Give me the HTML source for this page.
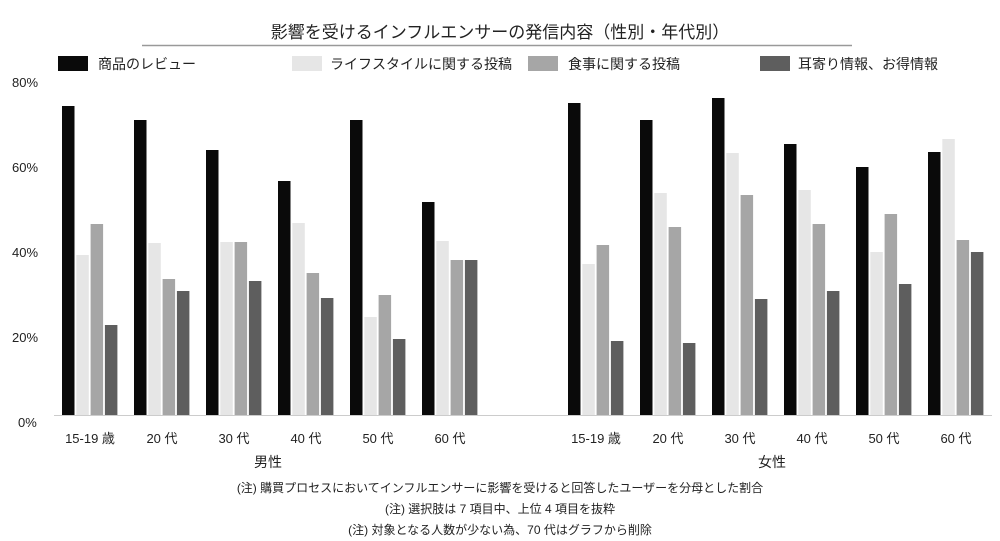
<!DOCTYPE html>
<html><head><meta charset="utf-8"><style>
body{margin:0;background:#fff;}
svg{display:block;font-family:"Liberation Sans","Noto Sans CJK JP",sans-serif;}
</style></head><body>
<svg width="1000" height="541" xmlns="http://www.w3.org/2000/svg">
<text x="500" y="38" font-size="17" text-anchor="middle" fill="#222">影響を受けるインフルエンサーの発信内容（性別・年代別）</text>
<line x1="142" y1="45.5" x2="852" y2="45.5" stroke="#999" stroke-width="1.5"/>
<rect x="58" y="56" width="30" height="15" fill="#0a0a0a"/>
<text x="98" y="69" font-size="14" fill="#222">商品のレビュー</text>
<rect x="292" y="56" width="30" height="15" fill="#e6e6e6"/>
<text x="330" y="69" font-size="14" fill="#222">ライフスタイルに関する投稿</text>
<rect x="528" y="56" width="30" height="15" fill="#a6a6a6"/>
<text x="568" y="69" font-size="14" fill="#222">食事に関する投稿</text>
<rect x="760" y="56" width="30" height="15" fill="#5e5e5e"/>
<text x="798" y="69" font-size="14" fill="#222">耳寄り情報、お得情報</text>
<g font-size="13" fill="#222">
<text x="12" y="87">80%</text>
<text x="12" y="172">60%</text>
<text x="12" y="257">40%</text>
<text x="12" y="342">20%</text>
<text x="18" y="427">0%</text>
</g>
<line x1="54" y1="415.5" x2="992" y2="415.5" stroke="#ccc" stroke-width="1"/>
<g id="bars"></g>
<g font-size="13" fill="#222" text-anchor="middle">
<text x="90" y="443">15-19 歳</text><text x="162" y="443">20 代</text><text x="234" y="443">30 代</text><text x="306" y="443">40 代</text><text x="378" y="443">50 代</text><text x="450" y="443">60 代</text>
<text x="596" y="443">15-19 歳</text><text x="668" y="443">20 代</text><text x="740" y="443">30 代</text><text x="812" y="443">40 代</text><text x="884" y="443">50 代</text><text x="956" y="443">60 代</text>
<text x="268" y="467" font-size="14">男性</text><text x="772" y="467" font-size="14">女性</text>
<text x="500" y="492" font-size="12">(注) 購買プロセスにおいてインフルエンサーに影響を受けると回答したユーザーを分母とした割合</text>
<text x="500" y="513" font-size="12">(注) 選択肢は 7 項目中、上位 4 項目を抜粋</text>
<text x="500" y="534" font-size="12">(注) 対象となる人数が少ない為、70 代はグラフから削除</text>
</g>
<script>
var g=document.getElementById('bars');
var xs=[62,134,206,278,350,422,568,640,712,784,856,928];
var v=[[106,255,224,325],[120,243,279,291],[150,242,242,281],[181,223,273,298],[120,317,295,339],[202,241,260,260],
[103,264,245,341],[120,193,227,343],[98,153,195,299],[144,190,224,291],[167,252,214,284],[152,139,240,252]];
var c=['#0a0a0a','#e6e6e6','#a6a6a6','#5e5e5e'];
for(var i=0;i<12;i++)for(var j=0;j<4;j++){
var r=document.createElementNS('http://www.w3.org/2000/svg','rect');
r.setAttribute('x',xs[i]+j*14.3);r.setAttribute('y',v[i][j]);r.setAttribute('width',12.5);r.setAttribute('height',415-v[i][j]);r.setAttribute('fill',c[j]);g.appendChild(r);}
</script>
</svg>
</body></html>
